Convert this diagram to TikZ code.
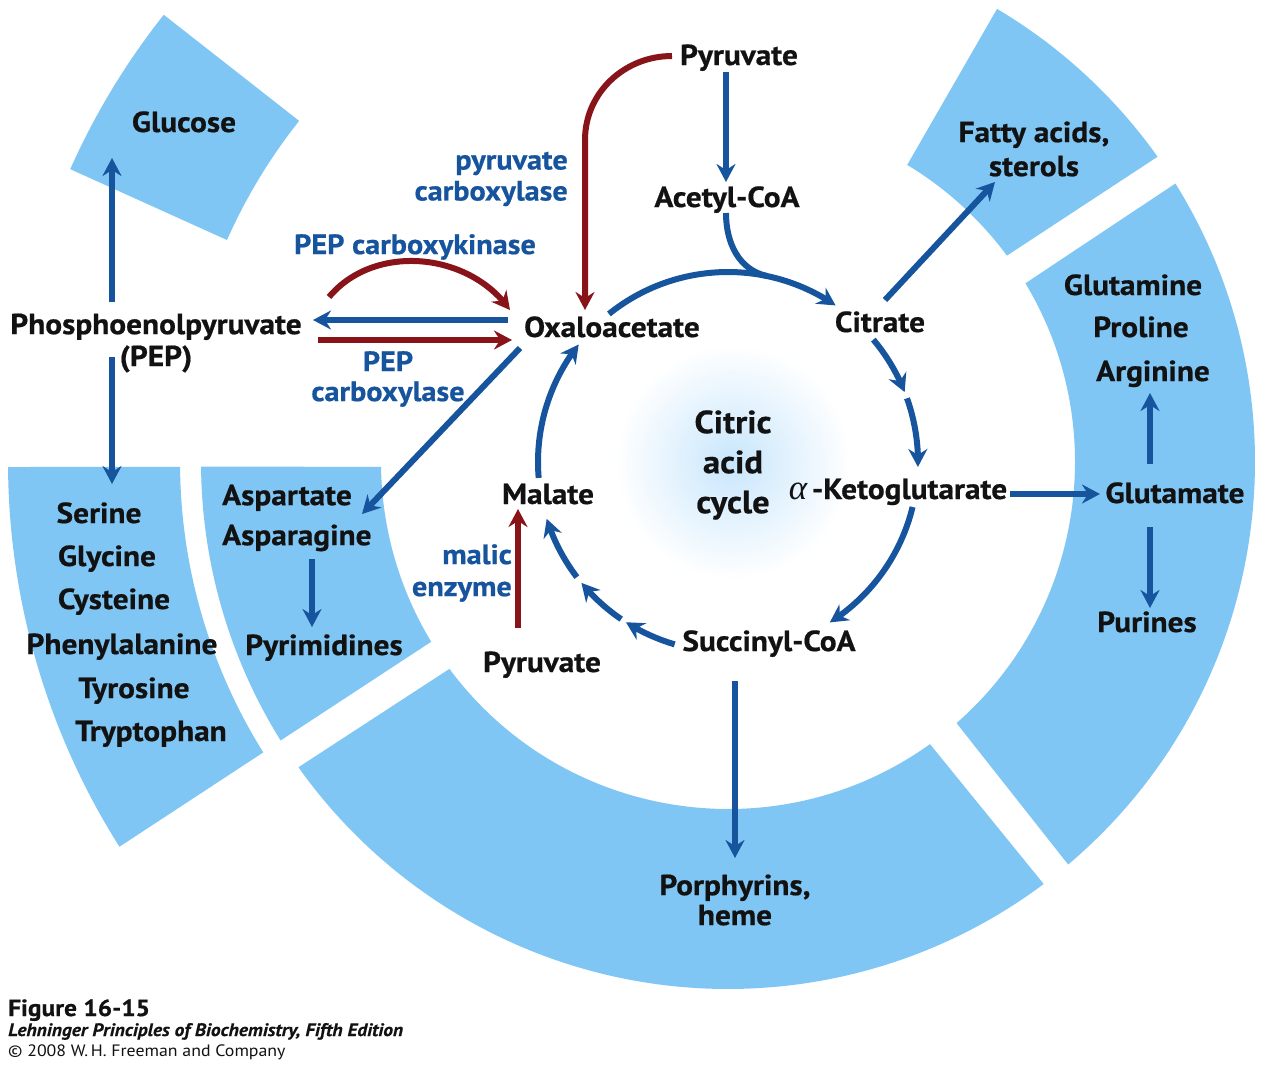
\documentclass[tikz,border=0pt]{standalone}
\usepackage{fontspec}
\setmainfont{PT Sans}[FakeStretch=1.08, BoldFeatures={FakeBold=0.6}, BoldItalicFeatures={FakeBold=0.4}]
\newfontfamily\grkfont{Liberation Serif}
\usetikzlibrary{arrows.meta,bending,calc}
\definecolor{ringblue}{RGB}{128,198,244}
\definecolor{arrblue}{RGB}{22,84,158}
\definecolor{arrred}{RGB}{136,20,26}
\definecolor{glowblue}{RGB}{200,230,252}
\definecolor{txtblack}{RGB}{18,18,18}
\newcommand\ringsector[6]{%
  \fill[secfill] ($(C)+(#1:#6)$) arc[start angle=#1,end angle=#2,radius=#6]
    -- ($(C)+(#3:#5)$) arc[start angle=#3,end angle=#4,radius=#5] -- cycle;}
\begin{document}
\begin{tikzpicture}[x=1pt,y=1pt,
  secfill/.style={fill=ringblue},
  lbl/.style={font=\bfseries\fontsize{29}{34}\selectfont, text=txtblack, inner sep=0pt, text height=20pt, text depth=6pt},
  mlbl/.style={font=\bfseries\fontsize{29}{#1}\selectfont, text=txtblack, inner sep=0pt, align=center},
  biglbl/.style={font=\bfseries\fontsize{32}{40}\selectfont, text=txtblack, inner sep=0pt, align=center},
  enz/.style={font=\bfseries\fontsize{28}{#1}\selectfont, text=arrblue, inner sep=0pt},
  barrow/.style={draw=arrblue, line width=6pt, -{Stealth[length=18pt,width=19pt,inset=6pt]}},
  rarrow/.style={draw=arrred, line width=6pt, -{Stealth[length=18pt,width=19pt,inset=6pt]}},
  bline/.style={draw=arrblue, line width=6pt},
  capt/.style={anchor=base west, inner sep=0pt, text=txtblack}
]
\useasboundingbox (0,0) rectangle (1267,-1072);
\fill[white] (0,0) rectangle (1267,-1072);
\coordinate (C) at (728,-462);

% ring sectors
\ringsector{59.3}{35.4}{36.5}{58.9}{347}{527}
\ringsector{31.9}{-49.8}{-48.8}{31.0}{347}{527}
\ringsector{-53.2}{-144.6}{-143.4}{-54.4}{347}{527}
\ringsector{180.5}{211.9}{211.2}{180.8}{347}{527}
\ringsector{141.6}{156}{156.1}{141.5}{548}{720}
\ringsector{180.4}{212.3}{212.0}{180.5}{548}{720}

% glow
\shade[inner color=glowblue, outer color=white] (733,-462) circle[radius=118];

% nodes
\node[lbl] (glc) at (184,-125) {Glucose};
\node[mlbl=32] (pep) at (156,-343) {Phosphoenolpyruvate\\(PEP)};
\node[lbl] (ser) at (99,-516) {Serine};
\node[lbl] (gly) at (107,-559) {Glycine};
\node[lbl] (cys) at (114,-602) {Cysteine};
\node[lbl] (phe) at (122,-647) {Phenylalanine};
\node[lbl] (tyr) at (134,-691) {Tyrosine};
\node[lbl] (trp) at (151,-734) {Tryptophan};
\node[mlbl=40, align=left, anchor=west] (asp) at (222,-518) {Aspartate\\Asparagine};
\node[lbl] (pyrim) at (324,-648) {Pyrimidines};
\node[lbl] (pyrtop) at (739,-58) {Pyruvate};
\node[lbl] (acoa) at (727,-200) {Acetyl-CoA};
\node[lbl] (oaa) at (612,-330) {Oxaloacetate};
\node[lbl] (cit) at (880,-325) {Citrate};
\node[lbl] (akg) at (898,-492) {{\grkfont\mdseries\itshape\fontsize{35}{34}\selectfont α}\,-Ketoglutarate};
\node[lbl] (succ) at (769,-644) {Succinyl-CoA};
\node[lbl] (mal) at (548,-497) {Malate};
\node[lbl] (pyrbot) at (542,-665) {Pyruvate};
\node[biglbl] (cac) at (733,-465) {Citric\\acid\\cycle};
\node[mlbl=34] (fatty) at (1034,-149) {Fatty acids,\\sterols};
\node[lbl] (gln) at (1133,-288) {Glutamine};
\node[lbl] (pro) at (1141,-330) {Proline};
\node[lbl] (arg) at (1153,-374) {Arginine};
\node[lbl] (glu) at (1175,-496) {Glutamate};
\node[lbl] (pur) at (1147,-625) {Purines};
\node[mlbl=30] (porph) at (735,-900) {Porphyrins,\\heme};

\node[enz=31, align=right, anchor=east] (pc) at (568,-179) {pyruvate\\carboxylase};
\node[enz=31] (pepck) at (415,-247) {PEP carboxykinase};
\node[enz=30, align=center] (pepc) at (388,-379) {PEP\\carboxylase};
\node[enz=32, align=right, anchor=east] (me) at (512,-573) {malic\\enzyme};

% caption
\node[capt, font=\bfseries\fontsize{23.5}{28}\selectfont] (fig) at (8,-1016) {Figure 16-15};
\node[capt, font=\bfseries\itshape\fontsize{18}{20}\selectfont] (book) at (8,-1036) {Lehninger Principles of Biochemistry, Fifth Edition};
\node[capt, font=\fontsize{16.5}{20}\selectfont] (copy) at (8,-1056) {© 2008 W.\,H. Freeman and Company};

% cycle
\draw[barrow] ($(C)+(128.8:190)$) arc[start angle=128.8,end angle=55.5,radius=190];
\draw[bline] ([shift={(-1,-13)}]acoa.center) to[out=-90,in=168] ($(C)+(78:190)$);
\draw[barrow] ($(C)+(40.1:190)$) arc[start angle=40.1,end angle=21.6,radius=190];
\draw[barrow] ($(C)+(19.6:190)$) arc[start angle=19.6,end angle=-1.5,radius=190];
\draw[barrow] ($(C)+(-13.7:190)$) arc[start angle=-13.7,end angle=-57.6,radius=190];
\draw[barrow] ($(C)+(253.7:190)$) arc[start angle=253.7,end angle=237.5,radius=190];
\draw[barrow] ($(C)+(235.8:190)$) arc[start angle=235.8,end angle=219.5,radius=190];
\draw[barrow] ($(C)+(217.3:190)$) arc[start angle=217.3,end angle=197.4,radius=190];
\draw[barrow] ($(C)+(184.8:190)$) arc[start angle=184.8,end angle=141.8,radius=190];

% connectors
\draw[barrow] ([shift={(-13,-14)}]pyrtop.center) -- ([shift={(-1,18)}]acoa.center);
\draw[rarrow] ([shift={(-67,2)}]pyrtop.center) to[out=180,in=90] ++(-87,-84) -- ([shift={(-27,20)}]oaa.center);
\draw[rarrow] ([shift={(173,46)}]pep.center) to[out=50,in=125] ([shift={(-102,20)}]oaa.center);
\draw[barrow] ([shift={(-104,10)}]oaa.center) -- ([shift={(157,23)}]pep.center);
\draw[rarrow] ([shift={(162,3)}]pep.center) -- ([shift={(-100,-10)}]oaa.center);
\draw[barrow] ([shift={(-92,-18)}]oaa.center) -- ([shift={(140,4)}]asp.west);
\draw[barrow] ([shift={(-44,41)}]pep.center) -- ([shift={(-72,-33)}]glc.center);
\draw[barrow] ([shift={(-44,-14)}]pep.center) -- ([shift={(13,32)}]ser.center);
\draw[barrow] ([shift={(90,-41)}]asp.west) -- ([shift={(-12,21)}]pyrim.center);
\draw[barrow] ([shift={(5,25)}]cit.center) -- ([shift={(-39,-33)}]fatty.center);
\draw[barrow] ([shift={(112,-2)}]akg.center) -- ([shift={(-75,2)}]glu.center);
\draw[barrow] ([shift={(-25,32)}]glu.center) -- ([shift={(-3,-19)}]arg.center);
\draw[barrow] ([shift={(-25,-31)}]glu.center) -- ([shift={(3,17)}]pur.center);
\draw[barrow] ([shift={(-34,-37)}]succ.center) -- ([shift={(0,42)}]porph.center);
\draw[rarrow] ([shift={(-24,37)}]pyrbot.center) -- ([shift={(-30,-12)}]mal.center);
\end{tikzpicture}
\end{document}
